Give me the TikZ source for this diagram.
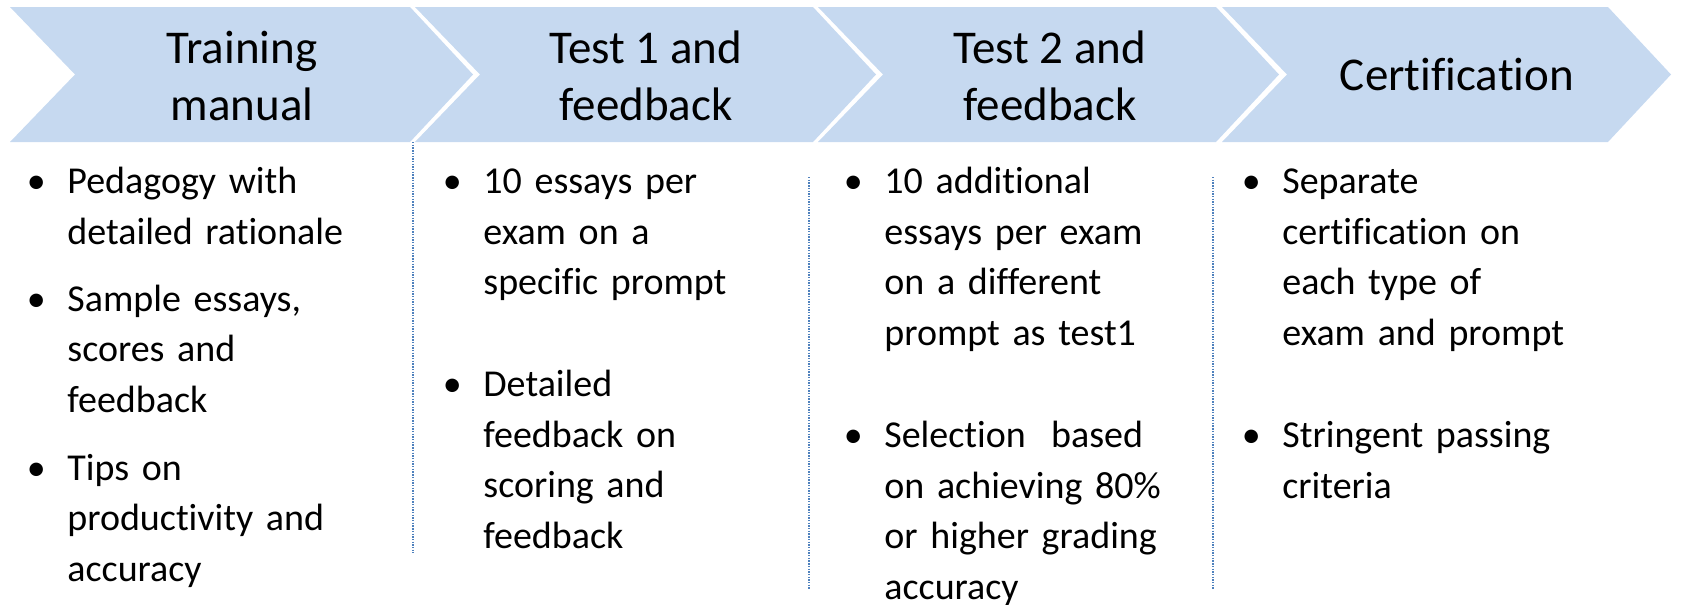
\documentclass[tikz,border=0pt]{standalone}
\usepackage{fontspec}
\setmainfont[Ligatures={NoCommon}]{Carlito}
\usepackage{tikz}
\usetikzlibrary{positioning}

\definecolor{chevblue}{RGB}{198,217,240}
\definecolor{dotblue}{RGB}{79,129,189}

\newcommand{\bul}{\llap{\makebox[31pt][c]{\textbullet}}}

\begin{document}
\begin{tikzpicture}[x=0.5pt,y=-0.5pt,
    chev/.style={fill=chevblue},
    title/.style={align=center,inner sep=0,font=\fontsize{23.5}{28.5}\selectfont},
    item/.style={anchor=base west,inner sep=0,text width=200pt,align=left,font=\fontsize{19}{25.3}\selectfont},
    divider/.style={draw=dotblue,line width=0.7pt,dash pattern=on 0.7pt off 0.65pt}]
    \useasboundingbox (0,0) rectangle (1688,605);
    % chevrons
    \fill[chev] (10,7)--(410,7)--(473,74.5)--(410,142)--(10,142)--(75,74.5)--cycle;
    \fill[chev] (415,7)--(813,7)--(876,74.5)--(813,142)--(415,142)--(480,74.5)--cycle;
    \fill[chev] (818,7)--(1216,7)--(1279,74.5)--(1216,142)--(818,142)--(883,74.5)--cycle;
    \fill[chev] (1222,7)--(1608,7)--(1671,74.5)--(1608,142)--(1222,142)--(1287,74.5)--cycle;
    \node[title] (manual) at (242,76) {Training\\manual};
    \node[title] (test1) at (646,76) {Test 1 and\\feedback};
    \node[title] (test2) at (1050,76) {Test 2 and\\feedback};
    \node[title] (cert) at (1457,75) {Certification};
    % dotted separators
    \draw[divider] (413,142) -- (413,553);
    \draw[divider] (809,177) -- (809,590);
    \draw[divider] (1213,177) -- (1213,590);
    % bullet points
    \node[item] (manual-a) at (67,193.5) {\bul Pedagogy with\\detailed rationale};
    \node[item] (manual-b) at (67,311) {\bul Sample essays,\\scores and\\feedback};
    \node[item] (manual-c) at (67,480) {\bul Tips on\\productivity and\\accuracy};
    \node[item] (test1-a) at (483,193.5) {\bul 10 essays per\\exam on a\\specific prompt};
    \node[item] (test1-b) at (483,396.5) {\bul Detailed\\feedback on\\scoring and\\feedback};
    \node[item] (test2-a) at (884,193.5) {\bul 10 additional\\essays per exam\\on a different\\prompt as test1};
    \node[item] (test2-b) at (884,447.5) {\bul Selection\ \ based\\on achieving 80\%\\or higher grading\\accuracy};
    \node[item] (cert-a) at (1282,193.5) {\bul Separate\\certification on\\each type of\\exam and prompt};
    \node[item] (cert-b) at (1282,447.5) {\bul Stringent passing\\criteria};
\end{tikzpicture}
\end{document}
